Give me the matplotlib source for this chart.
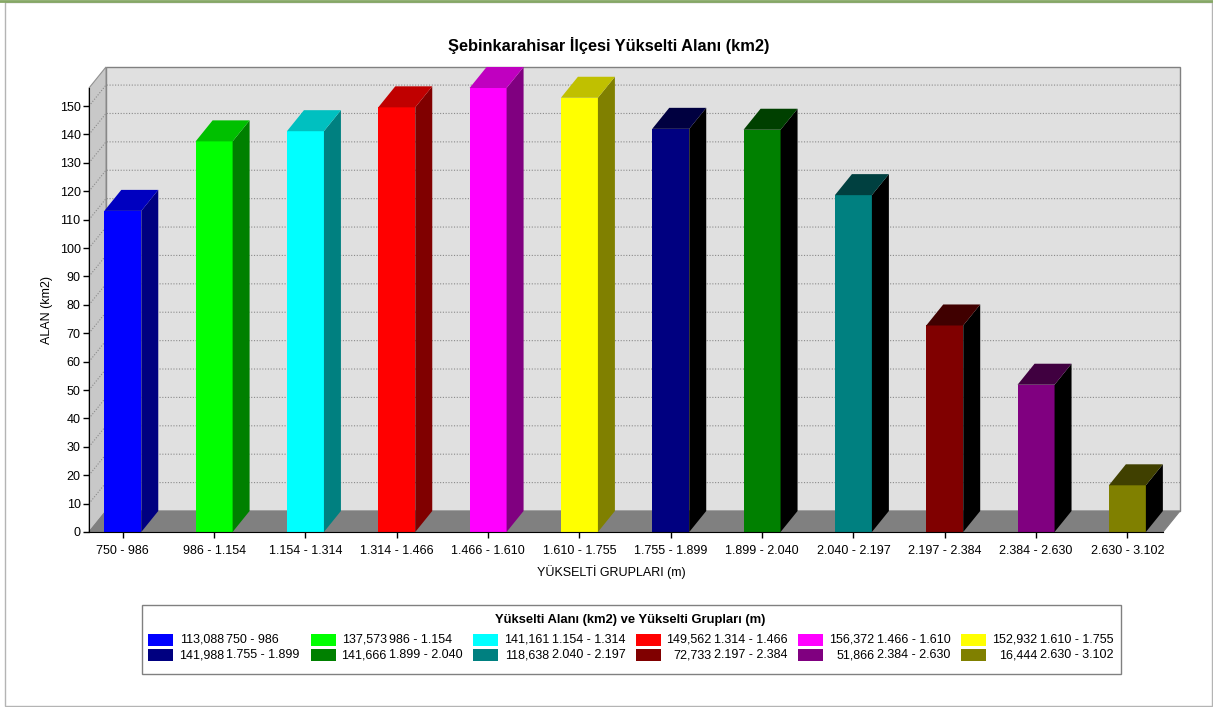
import matplotlib
matplotlib.use("Agg")
import matplotlib.pyplot as plt
from matplotlib.patches import Polygon, Rectangle
from matplotlib.lines import Line2D

plt.rcParams['font.family'] = ['Liberation Sans', 'DejaVu Sans']

# yükselti grupları (m) ve her grubun alanı (km2)
gruplar = ["750 - 986", "986 - 1.154", "1.154 - 1.314", "1.314 - 1.466",
           "1.466 - 1.610", "1.610 - 1.755", "1.755 - 1.899", "1.899 - 2.040",
           "2.040 - 2.197", "2.197 - 2.384", "2.384 - 2.630", "2.630 - 3.102"]
alanlar = [113.088, 137.573, 141.161, 149.562, 156.372, 152.932,
           141.988, 141.666, 118.638, 72.733, 51.866, 16.444]
y_tikler = list(range(0, 151, 10))

# ön yüz / yan yüz / üst yüz renkleri
on_renk = ['#0000ff', '#00ff00', '#00ffff', '#ff0000', '#ff00ff', '#ffff00',
           '#000080', '#008000', '#008080', '#800000', '#800080', '#808000']
yan_renk = ['#000080', '#008000', '#008080', '#800000', '#800080', '#808000',
            '#000000', '#000000', '#000000', '#000000', '#000000', '#000000']
ust_renk = ['#0000c0', '#00c000', '#00c0c0', '#c00000', '#c000c0', '#c0c000',
            '#000040', '#004000', '#004040', '#400000', '#400040', '#404000']

W, H = 1213, 707
fig = plt.figure(figsize=(W / 100, H / 100), dpi=100)
ax = fig.add_axes([89 / W, 1 - 532 / H, 1074 / W, 444 / H])
ax.patch.set_visible(False)

xl, xr = -0.37, 11.39
ytop = max(alanlar)
ax.set_xlim(xl, xr)
ax.set_ylim(0, ytop)

# 3B derinlik (veri birimi)
dx, dy = 0.186, 7.4
bw = 0.405

# arka duvar, sol duvar, zemin
ax.add_patch(Rectangle((xl + dx, dy), xr - xl, ytop, fc='#e0e0e0', ec='#808080',
                       lw=1, clip_on=False, zorder=0.5))
ax.add_patch(Polygon([(xl, 0), (xl + dx, dy), (xl + dx, ytop + dy), (xl, ytop)],
                     closed=True, fc='#c8c8c8', ec='#909090', lw=0.8, clip_on=False, zorder=0.6))
ax.add_patch(Polygon([(xl, 0), (xr, 0), (xr + dx, dy), (xl + dx, dy)],
                     closed=True, fc='#808080', ec='#808080', lw=0.8, clip_on=False, zorder=0.7))

for v in y_tikler[1:]:
    ax.plot([xl, xl + dx, xr + dx], [v, v + dy, v + dy], ls=(0, (1, 1.5)),
            color='#8a8a8a', lw=0.8, clip_on=False, zorder=0.8)

# çubuklar
x = list(range(len(gruplar)))
ax.bar(x, alanlar, width=bw, color=on_renk, zorder=3, clip_on=False)
for i, v in enumerate(alanlar):
    sag = i + bw / 2
    sol = i - bw / 2
    ax.add_patch(Polygon([(sag, 0), (sag + dx, dy), (sag + dx, v + dy), (sag, v)],
                         closed=True, fc=yan_renk[i], ec='none', clip_on=False, zorder=3))
    ax.add_patch(Polygon([(sol, v), (sag, v), (sag + dx, v + dy), (sol + dx, v + dy)],
                         closed=True, fc=ust_renk[i], ec='none', clip_on=False, zorder=3))

for s in ['top', 'right']:
    ax.spines[s].set_visible(False)
for s in ['left', 'bottom']:
    ax.spines[s].set_color('black')
    ax.spines[s].set_zorder(4)
ax.set_xticks(x)
ax.set_xticklabels(gruplar)
ax.set_yticks(y_tikler)
ax.tick_params(axis='both', direction='out', length=4, width=1, labelsize=9, colors='black')
ax.tick_params(axis='x', pad=5)
ax.tick_params(axis='y', pad=2)

fig.text(609 / W, 1 - 45 / H, "Şebinkarahisar İlçesi Yükselti Alanı (km2)",
         ha='center', va='center', fontsize=11.8, fontweight='bold')
fig.text(47 / W, 1 - 310 / H, "ALAN (km2)", rotation=90, ha='center', va='center', fontsize=9)
fig.text(611 / W, 1 - 572 / H, "YÜKSELTİ GRUPLARI (m)", ha='center', va='center', fontsize=9)

# lejant kutusu
fig.add_artist(Rectangle((142 / W, 1 - 674 / H), (1121 - 142) / W, (674 - 605) / H,
                         transform=fig.transFigure, fill=False, ec='#808080', lw=1))
fig.text(630 / W, 1 - 620 / H, "Yükselti Alanı (km2) ve Yükselti Grupları (m)",
         ha='center', va='center', fontsize=9.4, fontweight='bold')
for i, (g, v) in enumerate(zip(gruplar, alanlar)):
    sat, sut = divmod(i, 6)
    sx = 148 + 162.6 * sut
    sy = 640 + 15 * sat
    fig.add_artist(Rectangle((sx / W, 1 - (sy + 6) / H), 25 / W, 12.5 / H,
                             transform=fig.transFigure, fc=on_renk[i], ec='none'))
    deger = f"{v:.3f}".replace('.', ',')
    fig.text((sx + 76) / W, 1 - sy / H, deger, ha='right', va='center', fontsize=9)
    fig.text((sx + 78.5) / W, 1 - sy / H, g, ha='left', va='center', fontsize=9)

# dış çerçeve
fig.add_artist(Rectangle((5 / W, 1 / H), 1207 / W, 704 / H, transform=fig.transFigure,
                         fill=False, ec='#b4b4b4', lw=1))
fig.add_artist(Line2D([0, 1], [1 - 1 / H, 1 - 1 / H], transform=fig.transFigure,
                      color='#86a866', lw=2))

fig.savefig("out.png", dpi=100)
